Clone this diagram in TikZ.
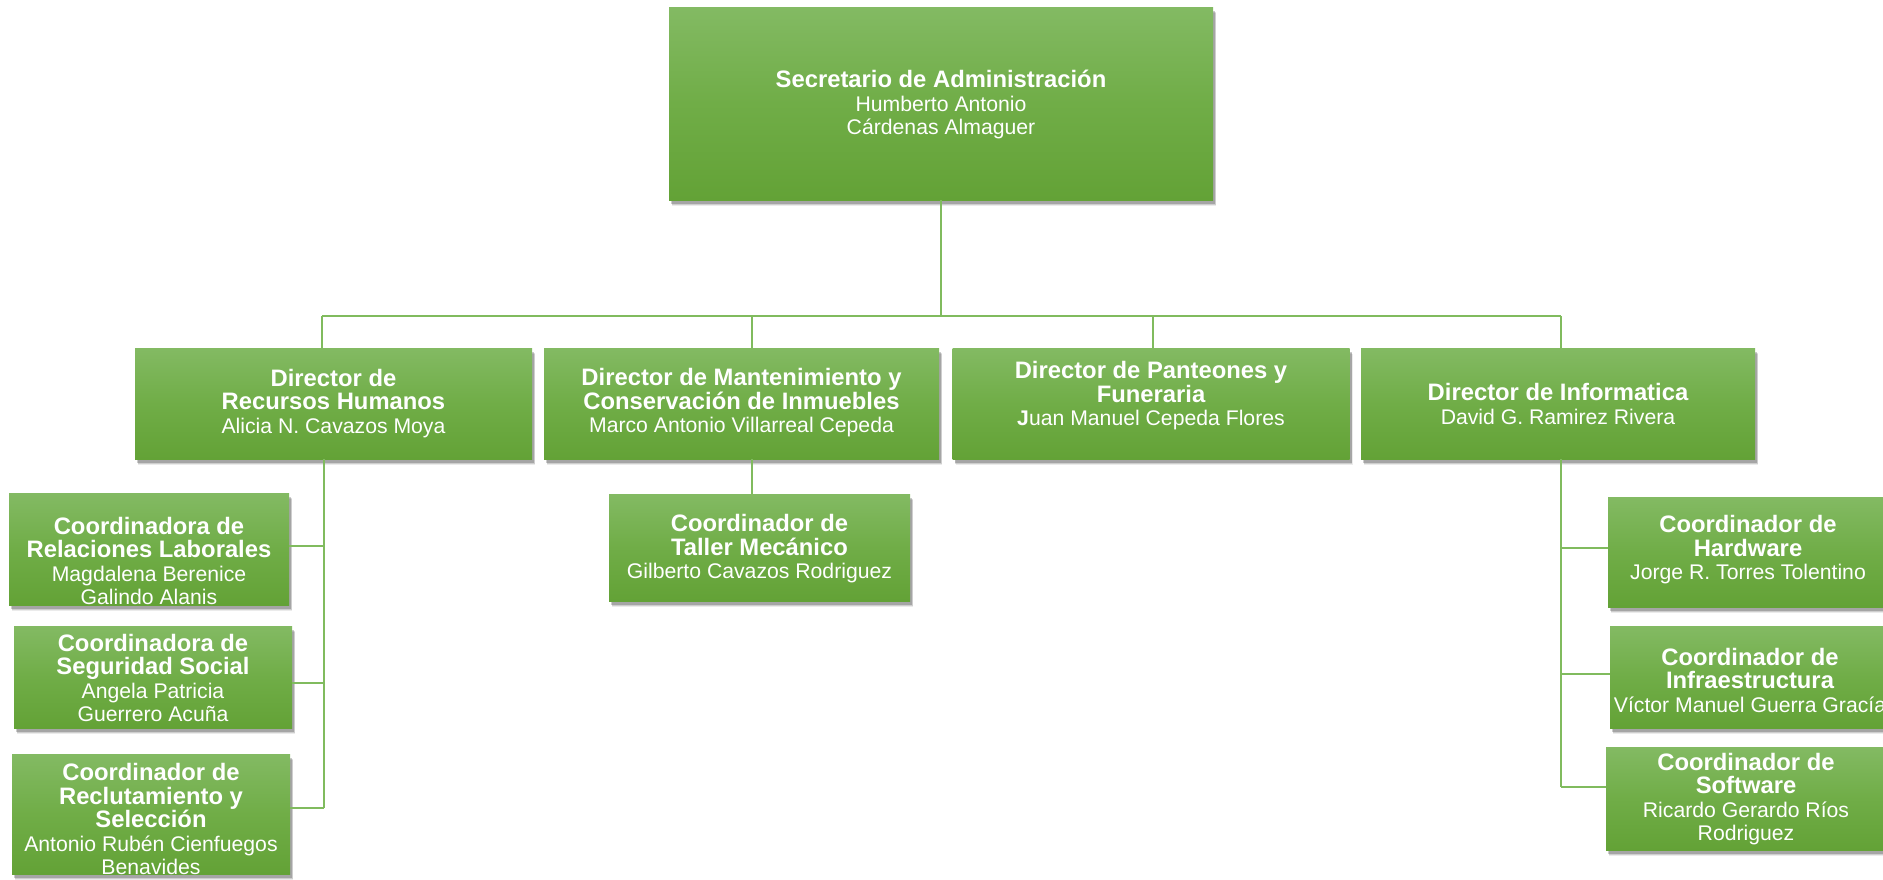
\documentclass[tikz,border=0pt]{standalone}
\usepackage{fontspec}
\setmainfont{Liberation Sans}
\usetikzlibrary{shadows}
\definecolor{gtop}{RGB}{131,186,99}
\definecolor{gmid}{RGB}{112,173,71}
\definecolor{gbot}{RGB}{99,162,54}
\definecolor{lnc}{RGB}{128,187,94}
\newcommand{\hd}[1]{{\fontsize{23.8}{24}\selectfont\bfseries #1}}
\begin{document}
\begin{tikzpicture}[x=1pt,y=-1pt,
  box/.style={rectangle, inner sep=0pt, top color=gtop, bottom color=gbot, middle color=gmid,
    drop shadow={shadow xshift=3pt, shadow yshift=-6pt, opacity=0.08, fill=black},
    drop shadow={shadow xshift=2.5pt, shadow yshift=-5pt, opacity=0.12, fill=black},
    drop shadow={shadow xshift=2pt, shadow yshift=-3.5pt, opacity=0.2, fill=black}},
  txt/.style={text=white, align=center, inner sep=0pt, font=\fontsize{21.2}{23.5}\selectfont},
  conn/.style={draw=lnc, line width=1.3pt}]
\useasboundingbox (0,0) rectangle (1883,879);
\clip (0,0) rectangle (1883,879);

% boxes
\node[box, minimum width=544pt, minimum height=193pt] (sec) at (941,103.5) {};
\node[box, minimum width=397pt, minimum height=111pt] (rh) at (333.5,403.5) {};
\node[box, minimum width=395pt, minimum height=111pt] (mant) at (741.5,403.5) {};
\node[box, minimum width=397pt, minimum height=111pt] (pant) at (1151,403.5) {};
\node[box, minimum width=394pt, minimum height=111pt] (dinf) at (1558,403.5) {};
\node[box, minimum width=301pt, minimum height=107pt] (tal) at (759.5,547.5) {};
\node[box, minimum width=280pt, minimum height=112pt] (rel) at (149,549) {};
\node[box, minimum width=278pt, minimum height=102pt] (seg) at (153,677) {};
\node[box, minimum width=278pt, minimum height=120pt] (rec) at (151,814) {};
\node[box, minimum width=280pt, minimum height=110pt] (hw) at (1748,552) {};
\node[box, minimum width=280pt, minimum height=102pt] (infr) at (1750,677) {};
\node[box, minimum width=280pt, minimum height=103pt] (sw) at (1746,798.5) {};

% texts
\node[txt] (sec-t) at (941,104.5) {\hd{Secretario de Administración}\\Humberto Antonio\\Cárdenas Almaguer};
\node[txt] (rh-t) at (333.5,403.5) {\hd{Director de}\\\hd{Recursos Humanos}\\Alicia N. Cavazos Moya};
\node[txt] (mant-t) at (741.5,403) {\hd{Director de Mantenimiento y}\\\hd{Conservación de Inmuebles}\\Marco Antonio Villarreal Cepeda};
\node[txt] (pant-t) at (1151,396) {\hd{Director de Panteones y}\\\hd{Funeraria}\\{\bfseries J}uan Manuel Cepeda Flores};
\node[txt] (dinf-t) at (1558,404) {\hd{Director de Informatica}\\David G. Ramirez Rivera};
\node[txt] (tal-t) at (759.5,549) {\hd{Coordinador de}\\\hd{Taller Mecánico}\\Gilberto Cavazos Rodriguez};
\node[txt] (rel-t) at (149,561) {\hd{Coordinadora de}\\\hd{Relaciones Laborales}\\Magdalena Berenice\\Galindo Alanis};
\node[txt] (seg-t) at (153,678) {\hd{Coordinadora de}\\\hd{Seguridad Social}\\Angela Patricia\\Guerrero Acuña};
\node[txt] (rec-t) at (151,819) {\hd{Coordinador de}\\\hd{Reclutamiento y}\\\hd{Selección}\\Antonio Rubén Cienfuegos\\Benavides};
\node[txt] (hw-t) at (1748,550) {\hd{Coordinador de}\\\hd{Hardware}\\Jorge R. Torres Tolentino};
\node[txt] (infr-t) at (1750,680) {\hd{Coordinador de}\\\hd{Infraestructura}\\Víctor Manuel Guerra Gracía};
\node[txt] (sw-t) at (1746,799) {\hd{Coordinador de}\\\hd{Software}\\Ricardo Gerardo Ríos\\Rodriguez};

% connectors
\coordinate (bL) at (322,316);
\coordinate (bM) at (752,316);
\coordinate (bP) at (1153,316);
\coordinate (bR) at (1561,316);
\draw[conn] (sec.south) -- (sec.south |- bL);
\draw[conn] (bL) -- (bR);
\draw[conn] (bL) -- (bL |- rh.north);
\draw[conn] (bM) -- (bM |- mant.north);
\draw[conn] (bP) -- (bP |- pant.north);
\draw[conn] (bR) -- (bR |- dinf.north);

\coordinate (ms) at ([xshift=10.5pt]mant.south);
\draw[conn] (ms) -- (ms |- tal.north);

\coordinate (rs) at ([xshift=-9.5pt]rh.south);
\coordinate (r1) at (324,546);
\coordinate (r2) at (324,683);
\coordinate (r3) at (324,808);
\draw[conn] (rs) -- (r3);
\draw[conn] (r1) -- (r1 -| rel.east);
\draw[conn] (r2) -- (r2 -| seg.east);
\draw[conn] (r3) -- (r3 -| rec.east);

\coordinate (is) at ([xshift=3pt]dinf.south);
\coordinate (i1) at (1561,548);
\coordinate (i2) at (1561,674);
\coordinate (i3) at (1561,787);
\draw[conn] (is) -- (i3);
\draw[conn] (i1) -- (i1 -| hw.west);
\draw[conn] (i2) -- (i2 -| infr.west);
\draw[conn] (i3) -- (i3 -| sw.west);
\end{tikzpicture}
\end{document}
